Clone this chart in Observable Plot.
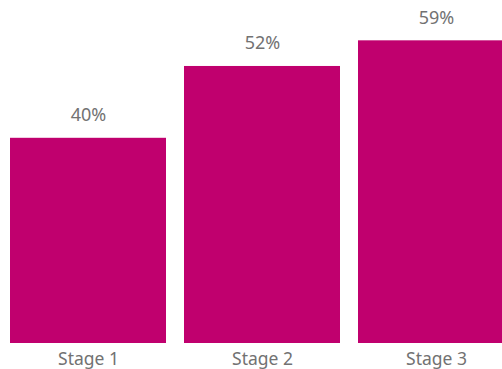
<!DOCTYPE html>
<html>
<head>
<meta charset="utf-8">
<script src="https://cdn.jsdelivr.net/npm/d3@7"></script>
<script src="https://cdn.jsdelivr.net/npm/@observablehq/plot@0.6"></script>
<style>
  html, body { margin: 0; padding: 0; background: #fff; }
  svg { display: block; overflow: hidden; }
</style>
</head>
<body>
<div id="chart"></div>
<script>
const stages = ["Stage 1", "Stage 2", "Stage 3"];
const values = [40, 54, 59];            // bar heights as drawn
const labels = ["40%", "52%", "59%"];   // value labels as printed

const data = stages.map((s, i) => ({stage: s, value: values[i], label: labels[i]}));

const chart = Plot.plot({
  width: 502,
  height: 369,
  marginTop: 0,
  marginBottom: 26,
  marginLeft: 0,
  marginRight: 0,
  style: {fontFamily: "'Noto Sans', sans-serif", background: "#fff"},
  x: {domain: stages, range: [10, 514], paddingInner: 18 / 174, paddingOuter: 0, label: null},
  y: {domain: [0, 66.86], axis: null},
  marks: [
    Plot.barY(data, {x: "stage", y: "value", fill: "#c0006e"}),
    Plot.text(data, {x: "stage", y: "value", text: "label", dy: -23, fontSize: 18, fill: "#727272"}),
    Plot.axisX({tickSize: 0, tickPadding: 9, fontSize: 17.5, color: "#727272", label: null})
  ]
});
document.getElementById("chart").appendChild(chart);
</script>
</body>
</html>
